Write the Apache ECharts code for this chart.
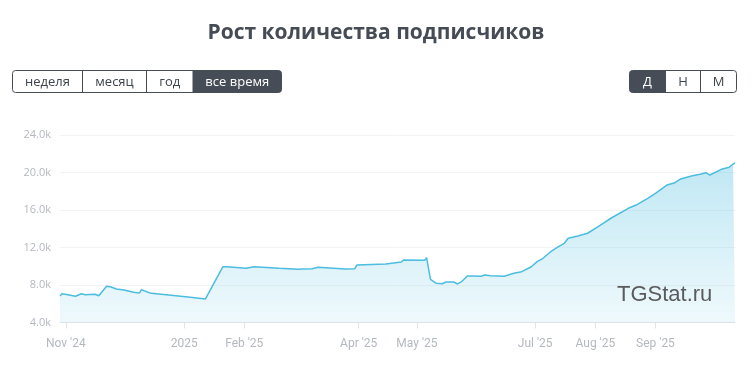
<!DOCTYPE html>
<html>
<head>
<meta charset="utf-8">
<script src="https://cdn.jsdelivr.net/npm/echarts@6/dist/echarts.min.js"></script>
<style>html,body{margin:0;padding:0;background:#fff}#c{width:752px;height:380px}</style>
</head>
<body>
<div id="c"></div>
<script>
const titleText = 'Рост количества подписчиков';
const periodButtons = ['неделя', 'месяц', 'год', 'все время'];
const scaleButtons = ['Д', 'Н', 'М'];
const watermark = 'TGStat.ru';

const dates = ['2024-10-29','2024-10-30','2024-11-02','2024-11-06','2024-11-09','2024-11-11','2024-11-16','2024-11-18','2024-11-22','2024-11-24','2024-11-27',
'2024-12-01','2024-12-06','2024-12-09','2024-12-10','2024-12-11','2024-12-15','2024-12-24',
'2025-01-03','2025-01-12','2025-01-13','2025-01-21','2025-01-23',
'2025-02-02','2025-02-06','2025-02-19',
'2025-03-01','2025-03-03','2025-03-08','2025-03-11','2025-03-25','2025-03-30','2025-03-31',
'2025-04-15','2025-04-16','2025-04-23','2025-04-24',
'2025-05-05','2025-05-06','2025-05-07','2025-05-08','2025-05-09','2025-05-11','2025-05-14','2025-05-16','2025-05-20','2025-05-22','2025-05-24','2025-05-27','2025-05-30',
'2025-06-03','2025-06-05','2025-06-08','2025-06-09','2025-06-15','2025-06-20','2025-06-24','2025-06-29',
'2025-07-02','2025-07-05','2025-07-09','2025-07-13','2025-07-16','2025-07-18','2025-07-23','2025-07-28',
'2025-08-01','2025-08-05','2025-08-09','2025-08-18','2025-08-22','2025-08-28',
'2025-09-01','2025-09-07','2025-09-11','2025-09-14','2025-09-20','2025-09-24','2025-09-27','2025-09-28','2025-09-29',
'2025-10-05','2025-10-09','2025-10-11','2025-10-12'];

const subscribers = [6830,7070,6960,6800,7070,6960,7010,6860,7860,7820,7570,
7470,7220,7150,7500,7430,7110,6930,
6720,6510,6470,9950,9950,
9780,9950,9780,
9680,9710,9740,9890,9710,9740,10130,
10240,10450,10450,10670,
10630,10910,10950,8610,8460,8180,8140,8320,8320,8110,8350,8960,8960,
8930,9070,8990,8820,8930,9250,9420,9950,
10490,10850,11550,12090,12450,12980,13230,13520,
14050,14580,15120,16180,16530,17250,
17780,18670,18910,19310,19660,19810,19980,19770,19730,
20340,20560,20910,21010];

const tickDates = ['2024-11-01','2025-01-01','2025-02-01','2025-04-01','2025-05-01','2025-07-01','2025-08-01','2025-09-01'];
const tickLabels = ["Nov '24", '2025', "Feb '25", "Apr '25", "May '25", "Jul '25", "Aug '25", "Sep '25"];

const xStart = '2024-10-29', xEnd = '2025-10-12';
const yMin = 4000, yMax = 24000, yStep = 4000;

function ts(s) { const p = s.split('-').map(Number); return new Date(p[0], p[1] - 1, p[2]).getTime(); }
const tickTimes = tickDates.map(ts);
const seriesData = dates.map((d, i) => [ts(d), subscribers[i]]);

const chart = echarts.init(document.getElementById('c'));

const dark = '#474d57';
const btnFont = '13px "Open Sans", sans-serif';

function buttonGroup(labels, edges, selected, y0, h) {
  const els = [];
  const x0 = edges[0], x1 = edges[edges.length - 1];
  const si = selected;
  const r = [si === 0 ? 3 : 0, si === labels.length - 1 ? 3 : 0, si === labels.length - 1 ? 3 : 0, si === 0 ? 3 : 0];
  els.push({ type: 'rect', shape: { x: edges[si], y: y0, width: edges[si + 1] - edges[si], height: h, r: r }, style: { fill: dark }, silent: true });
  els.push({ type: 'rect', shape: { x: x0, y: y0, width: x1 - x0, height: h, r: 3 }, style: { fill: 'none', stroke: dark, lineWidth: 1 }, silent: true });
  for (let i = 1; i < edges.length - 1; i++) {
    els.push({ type: 'line', shape: { x1: edges[i], y1: y0, x2: edges[i], y2: y0 + h }, style: { stroke: dark, lineWidth: 1 }, silent: true });
  }
  labels.forEach((t, i) => {
    els.push({ type: 'text', x: (edges[i] + edges[i + 1]) / 2, y: y0 + h / 2 + 0.5,
      style: { text: t, font: btnFont, fill: i === si ? '#ffffff' : '#3e444c', align: 'center', verticalAlign: 'middle' }, silent: true });
  });
  return els;
}

const graphics = []
  .concat(buttonGroup(periodButtons, [12.5, 82.5, 146.5, 193, 281.5], 3, 70.5, 22))
  .concat(buttonGroup(scaleButtons, [629.5, 665.5, 700.5, 736.5], 0, 70.5, 22));
graphics.push({ type: 'text', x: 617, y: 295, z: 10,
  style: { text: watermark, font: '22px "Liberation Sans", Arial, sans-serif', fill: '#4a4a4a', opacity: 0.9, align: 'left', verticalAlign: 'middle' }, silent: true });

chart.setOption({
  animation: false,
  title: {
    text: titleText, left: 'center', top: 18,
    textStyle: { fontFamily: '"Open Sans", sans-serif', fontWeight: 'bold', fontSize: 21, color: '#464c55' }
  },
  grid: { left: 60, right: 17, top: 135, bottom: 57.5 },
  xAxis: {
    type: 'value',
    min: ts(xStart),
    max: ts(xEnd),
    axisLine: { show: true, onZero: false, lineStyle: { color: '#e3e4e8' } },
    axisTick: { show: true, length: 6, lineStyle: { color: '#e3e4e8' }, customValues: tickTimes },
    splitLine: { show: false },
    axisLabel: {
      customValues: tickTimes,
      hideOverlap: false,
      showMinLabel: true, showMaxLabel: true,
      margin: 15,
      fontFamily: 'Roboto, sans-serif', fontSize: 12, color: '#b4b8bf',
      formatter: function (v) {
        for (let i = 0; i < tickTimes.length; i++) if (Math.abs(tickTimes[i] - v) < 3600000) return tickLabels[i];
        return '';
      }
    }
  },
  yAxis: {
    type: 'value', min: yMin, max: yMax, interval: yStep,
    axisLine: { show: false }, axisTick: { show: false },
    splitLine: { lineStyle: { color: '#f3f3f5' } },
    axisLabel: {
      margin: 9, fontFamily: '"Open Sans", sans-serif', fontSize: 11, color: '#b4b8bf',
      formatter: v => (v / 1000).toFixed(1) + 'k'
    }
  },
  series: [{
    type: 'line', data: seriesData, showSymbol: false, symbol: 'none',
    lineStyle: { color: '#4cbde0', width: 1.5 },
    areaStyle: {
      color: new echarts.graphic.LinearGradient(0, 0, 0, 1, [
        { offset: 0, color: 'rgba(76,189,224,0.5)' },
        { offset: 1, color: 'rgba(76,189,224,0.13)' }
      ])
    }
  }],
  graphic: graphics
});
</script>
</body>
</html>
